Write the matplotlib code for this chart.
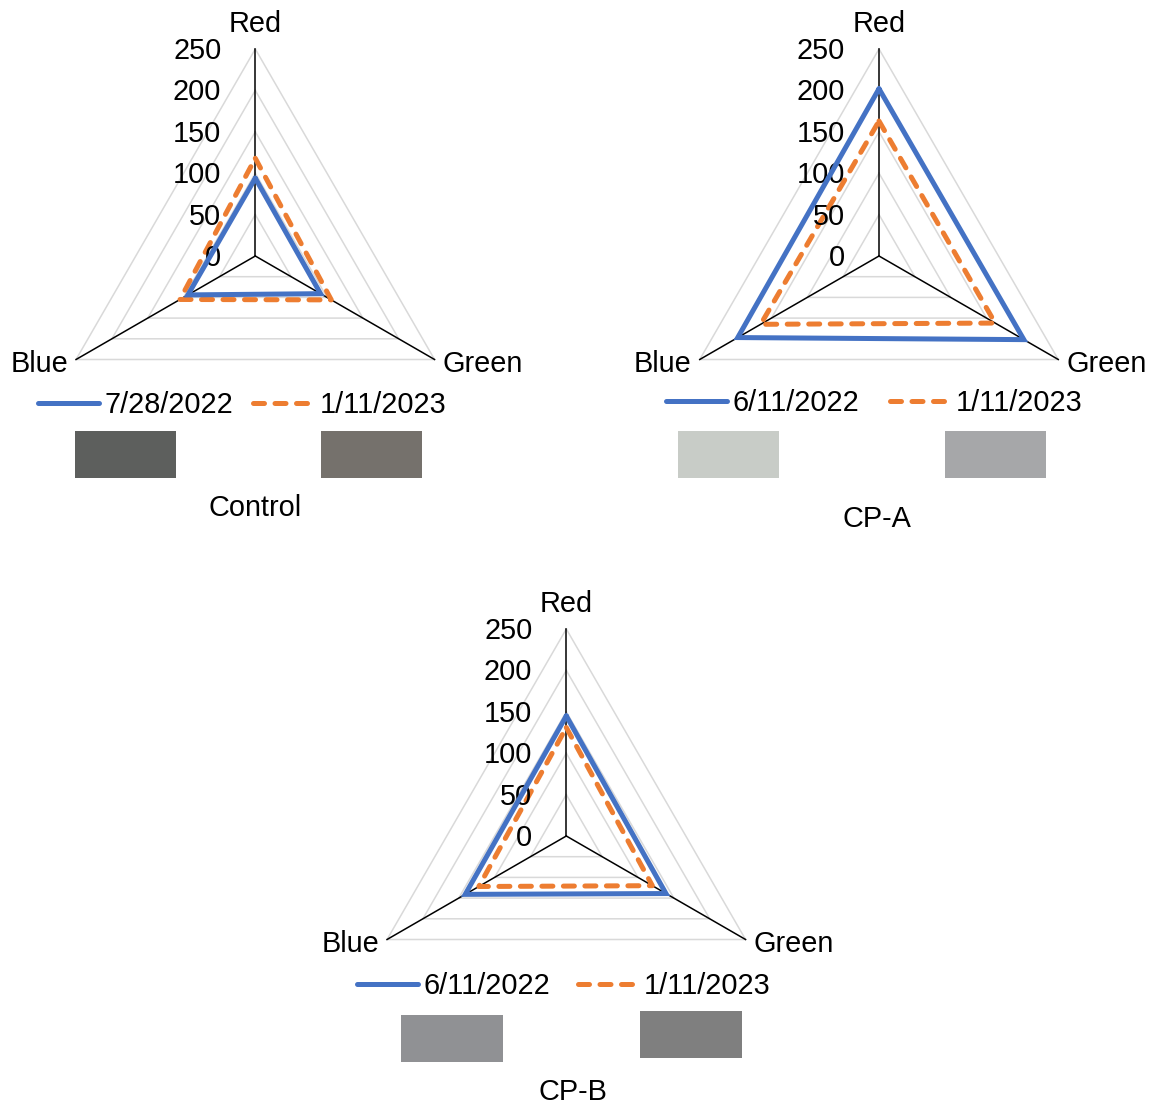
import numpy as np
import matplotlib
matplotlib.use("Agg")
import matplotlib.pyplot as plt
from matplotlib.patches import Rectangle

plt.rcParams['font.family'] = ['Liberation Sans', 'DejaVu Sans']

# ---------------- data ----------------
categories = ["Red", "Green", "Blue"]
ticks = [0, 50, 100, 150, 200, 250]

control_dates = ["7/28/2022", "1/11/2023"]
control_first = [94, 91, 94]
control_second = [118, 106, 105]

cpa_dates = ["6/11/2022", "1/11/2023"]
cpa_first = [202, 202, 197]
cpa_second = [163, 162, 165]

cpb_dates = ["6/11/2022", "1/11/2023"]
cpb_first = [145, 139, 141]
cpb_second = [131, 120, 122]

panel_names = ["Control", "CP-A", "CP-B"]
swatch_colors = [["#5D5F5D", "#75716C"], ["#C8CCC7", "#A6A7A9"], ["#909194", "#7F7F7F"]]

# ---------------- layout (pixels) ----------------
W, H = 1154, 1105
fig = plt.figure(figsize=(W / 100, H / 100), dpi=100)

BLUE = "#4472C4"
ORANGE = "#ED7D31"
GRID = "#D9D9D9"
FS = 20.8
R = 207

panels = [
    dict(center=(255.3, 256), data=(control_first, control_second), dates=control_dates,
         leg=(38, 405, 0.68), title=(255, 516),
         sw=[(75, 431, 176, 478), (321, 431, 422, 478)]),
    dict(center=(879, 256), data=(cpa_first, cpa_second), dates=cpa_dates,
         leg=(666, 403, 1.05), title=(877, 527),
         sw=[(678, 431, 779, 478), (945, 431, 1046, 478)]),
    dict(center=(566.3, 836), data=(cpb_first, cpb_second), dates=cpb_dates,
         leg=(357, 986, 0.95), title=(573, 1100),
         sw=[(401, 1015, 503, 1062), (640, 1011, 742, 1058)]),
]

n = len(categories)
angles = np.arange(n) * 2 * np.pi / n
closed = np.concatenate([angles, angles[:1]])

for i, p in enumerate(panels):
    cx, cy = p["center"]
    ax = fig.add_axes([(cx - R) / W, (H - cy - R) / H, 2 * R / W, 2 * R / H],
                      projection="polar")
    ax.set_theta_offset(np.pi / 2)
    ax.set_theta_direction(-1)
    ax.set_ylim(0, 250)
    ax.set_axis_off()

    # triangular grid
    for lv in ticks[1:]:
        ax.plot(closed, [lv] * (n + 1), color=GRID, lw=1.1, zorder=1, clip_on=False)
    # spokes
    for a in angles:
        ax.plot([a, a], [0, ticks[-1]], color="black", lw=1.1, zorder=2, clip_on=False)

    first, second = p["data"]
    ax.plot(closed, list(first) + [first[0]], color=BLUE, lw=3.6, zorder=4,
            solid_joinstyle="miter", solid_capstyle="round", clip_on=False,
            label=p["dates"][0])
    ax.plot(closed, list(second) + [second[0]], color=ORANGE, lw=3.6, zorder=3,
            dashes=(2.2, 2.1), dash_capstyle="round", clip_on=False,
            label=p["dates"][1])

    # radial tick labels
    for t in ticks:
        ax.annotate(str(t), xy=(0, t), xytext=(-34, -10), textcoords="offset pixels",
                    ha="right", va="baseline", fontsize=FS, annotation_clip=False)
    # category labels
    ax.annotate(categories[0], xy=(angles[0], 250), xytext=(0, 17), textcoords="offset pixels",
                ha="center", va="baseline", fontsize=FS, annotation_clip=False)
    ax.annotate(categories[1], xy=(angles[1], 250), xytext=(8, -12), textcoords="offset pixels",
                ha="left", va="baseline", fontsize=FS, annotation_clip=False)
    ax.annotate(categories[2], xy=(angles[2], 250), xytext=(-8, -12), textcoords="offset pixels",
                ha="right", va="baseline", fontsize=FS, annotation_clip=False)

    lx, ly, colsp = p["leg"]
    ax.legend(loc="center left", bbox_to_anchor=(lx / W, 1 - ly / H),
              bbox_transform=fig.transFigure, ncol=2, frameon=False, fontsize=FS,
              borderpad=0, borderaxespad=0, handlelength=2.1, handletextpad=0.2,
              columnspacing=colsp)

    for (x0, y0, x1, y1), c in zip(p["sw"], swatch_colors[i]):
        fig.add_artist(Rectangle((x0 / W, 1 - y1 / H), (x1 - x0) / W, (y1 - y0) / H,
                                 transform=fig.transFigure, facecolor=c, edgecolor="none"))

    tx, ty = p["title"]
    fig.text(tx / W, 1 - ty / H, panel_names[i], ha="center", va="baseline", fontsize=FS)

fig.savefig("out.png", dpi=100)
